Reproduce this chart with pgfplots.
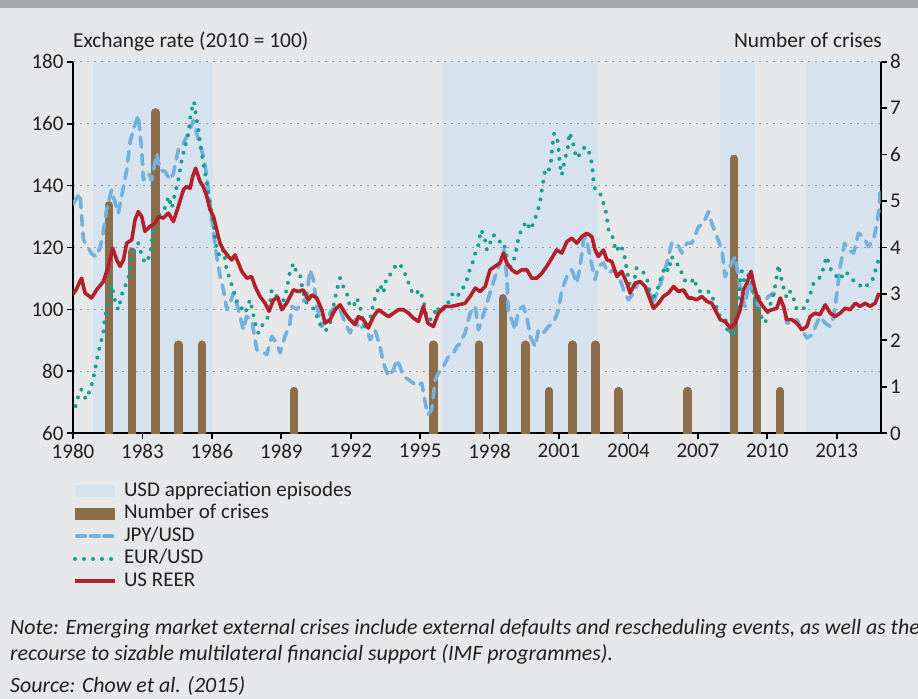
\documentclass[border=0pt]{standalone}
\usepackage{fontspec}
\setmainfont{Carlito}
\usepackage{pgfplots}
\pgfplotsset{compat=1.18}
\definecolor{bg}{HTML}{E6E7E8}
\definecolor{band}{HTML}{A7A9AC}
\definecolor{shadecol}{HTML}{D6E3EF}
\definecolor{crisis}{HTML}{8C6D4A}
\definecolor{jpy}{HTML}{72B0DD}
\definecolor{eur}{HTML}{159E91}
\definecolor{reer}{HTML}{B3202A}
\definecolor{txt}{HTML}{231F20}
\definecolor{gridc}{HTML}{9B9B9B}
\newcommand{\fs}{\fontsize{21bp}{25bp}\selectfont}
\newcommand{\ft}{\fontsize{21.4bp}{25bp}\selectfont}
\newcommand{\fn}{\fontsize{21.9bp}{26bp}\selectfont}
\pgfplotsset{
  mybox/.style={at={(73bp,265.7bp)}, anchor=south west, scale only axis,
    width=807.7bp, height=371.6bp, xmin=1980, xmax=2014.9,
    /pgf/number format/assume math mode=true, /pgf/number format/1000 sep={},
    tick label style={font=\fs, text=txt},
    xticklabel style={yshift=-1.5bp},
    axis line style={line width=2bp, black},
    tick style={line width=1.8bp, black},
    major tick length=6bp, tick align=outside},
}
\begin{document}
\begin{tikzpicture}
\useasboundingbox (0,0) rectangle (918bp,699bp);
\clip (0,0) rectangle (918bp,699bp);
\fill[bg] (0,0) rectangle (918bp,699bp);
\fill[band] (0,691bp) rectangle (918bp,699bp);

% shaded episodes
\begin{axis}[mybox, ymin=60, ymax=180, hide axis]
\addplot[draw=none, fill=shadecol] coordinates {(1980.88,60) (1986.06,60) (1986.06,180) (1980.88,180)};
\addplot[draw=none, fill=shadecol] coordinates {(1995.96,60) (2002.67,60) (2002.67,180) (1995.96,180)};
\addplot[draw=none, fill=shadecol] coordinates {(2007.97,60) (2009.48,60) (2009.48,180) (2007.97,180)};
\addplot[draw=none, fill=shadecol] coordinates {(2011.69,60) (2014.9,60) (2014.9,180) (2011.69,180)};
\end{axis}

% left axis, x axis, grid
\begin{axis}[mybox, ymin=60, ymax=180,
  axis x line*=bottom, axis y line*=left,
  xtick={1980,1983,...,2013}, ytick={60,80,...,180},
  ymajorgrids, grid style={gridc, line width=1.5bp, dash pattern=on 2bp off 5bp}]
\addplot[draw=none] coordinates {(1980,60)};
\end{axis}

% crises bars, right axis
\begin{axis}[mybox, ymin=0, ymax=8, axis x line=none, axis y line*=right,
  ytick={0,1,...,8}, clip=true]
\addplot[ycomb, crisis, mark=none, line width=8.5bp, line cap=round, yshift=-4.25bp] table {
x y
1981.55 5
1982.55 4
1983.57 7
1984.55 2
1985.57 2
1989.55 1
1995.57 2
1997.55 2
1998.57 3
1999.56 2
2000.57 1
2001.58 2
2002.57 2
2003.57 1
2006.56 1
2008.55 6
2009.56 3
2010.55 1
};
\end{axis}

% lines and legend
\begin{axis}[mybox, ymin=60, ymax=180, hide axis,
  legend style={at={(rel axis cs:0,0)}, anchor=north west, yshift=-49bp,
    draw=none, fill=none, inner sep=0pt, outer sep=0pt, row sep=4.5bp, column sep=7bp,
    font=\fs, text=txt, nodes={inner sep=0pt, text height=14bp, text depth=4bp}},
  legend cell align=left,
  legend image code/.code={\draw (0bp,0bp) -- (40bp,0bp);}]
\addlegendimage{draw=none, legend image code/.code={\fill[shadecol] (0bp,-6bp) rectangle (40bp,6bp);}}
\addlegendentry{USD appreciation episodes}
\addlegendimage{draw=none, legend image code/.code={\fill[crisis] (0bp,-6bp) rectangle (40bp,6bp);}}
\addlegendentry{Number of crises}
\addplot[jpy, line width=3.6bp, dash pattern=on 10bp off 7.5bp, line cap=round, line join=round,
  legend image code/.code={\draw[dash pattern=on 8.6bp off 5bp] (1.8bp,0bp) -- (38.2bp,0bp);}] table {
x y
1980.00 134
1980.16 136
1980.30 137.5
1980.45 122.5
1980.66 120
1980.80 118
1981.00 117
1981.17 120
1981.30 124.6
1981.45 132
1981.67 138.6
1981.80 135
1981.96 131
1982.10 136.5
1982.32 145
1982.46 153.7
1982.60 158
1982.82 162.8
1982.97 151.5
1983.04 141.8
1983.26 144
1983.40 141.8
1983.62 150.4
1983.76 145
1983.98 144.5
1984.19 141.8
1984.34 144
1984.55 151.5
1984.77 153.7
1984.99 156.9
1985.20 161
1985.42 154.7
1985.64 149.4
1985.78 143
1985.93 133.2
1986.07 124.6
1986.21 117
1986.36 110.6
1986.50 106.3
1986.65 99.9
1986.79 102
1986.93 105.3
1987.15 99.9
1987.36 93.4
1987.50 97.7
1987.72 96.7
1987.94 87
1988.16 86.5
1988.37 85.4
1988.59 91.3
1988.80 89.1
1988.95 86
1989.16 91.3
1989.38 95.6
1989.45 101
1989.67 100
1989.88 102
1990.10 104
1990.24 112.8
1990.39 109.6
1990.53 101
1990.75 94.5
1990.96 96.7
1991.18 99.9
1991.40 101
1991.54 99.9
1991.76 95.6
1991.97 92.4
1992.19 96.7
1992.40 93.4
1992.62 95.6
1992.84 90.2
1993.05 93.4
1993.27 88
1993.41 82.7
1993.63 78.4
1993.85 80.5
1993.99 83.8
1994.13 81.6
1994.28 78.4
1994.50 77.3
1994.71 76.2
1994.86 75.2
1995.07 76.2
1995.22 69.8
1995.33 66
1995.50 67.6
1995.65 77.3
1995.79 79.5
1996.01 81.6
1996.22 84.8
1996.44 85.9
1996.58 88
1996.73 89.1
1996.94 92.4
1997.16 98.8
1997.38 101
1997.52 93.4
1997.78 99.5
1998.02 105.3
1998.24 110.6
1998.45 115
1998.63 119.2
1998.74 110.6
1998.81 98.8
1998.96 96.7
1999.10 93.4
1999.25 99.9
1999.46 101
1999.61 97.7
1999.75 91.3
1999.97 88
2000.11 93.4
2000.33 92.4
2000.54 94.5
2000.76 95.6
2000.98 99.9
2001.12 106.3
2001.34 110.6
2001.55 112.8
2001.77 108.5
2001.91 113.8
2002.06 122.5
2002.17 123.5
2002.34 117
2002.56 109.6
2002.70 113.9
2002.92 115
2003.14 111.7
2003.35 112.8
2003.57 111.2
2003.79 106.3
2004.00 103.1
2004.22 105.3
2004.44 109
2004.65 108.5
2004.87 106.3
2005.05 102
2005.23 105.3
2005.44 109.6
2005.66 115
2005.87 121.4
2006.09 121.4
2006.31 118.2
2006.52 121.4
2006.74 121.4
2007.03 126.7
2007.24 127.8
2007.46 131.6
2007.60 127.8
2007.82 123.5
2008.04 119.2
2008.18 110.6
2008.39 113.9
2008.61 117.1
2008.75 110.6
2008.90 104.2
2009.04 101
2009.19 108.5
2009.40 105.3
2009.62 101
2009.83 102
2010.05 104.2
2010.27 105.3
2010.48 104.2
2010.70 101
2010.84 95.6
2011.06 95.6
2011.27 96.7
2011.49 93.4
2011.71 90.8
2011.92 91.8
2012.14 95.6
2012.28 97.7
2012.50 95.6
2012.72 94.5
2012.86 97.7
2013.01 105.3
2013.15 113.9
2013.34 121.4
2013.51 119.2
2013.73 118.2
2013.94 124.6
2014.16 123.5
2014.37 120.3
2014.59 122.5
2014.74 127.8
2014.84 133.2
2014.88 138.6
};
\addlegendentry{JPY/USD}
\addplot[eur, line width=4bp, dash pattern=on 0.01bp off 9bp, line cap=round] table {
x y
1980.11 68.8
1980.21 71.5
1980.36 74.2
1980.43 72.6
1980.57 71
1980.72 73.7
1980.83 76.3
1980.93 79.6
1981.08 85.5
1981.18 88.7
1981.31 92.4
1981.38 97.7
1981.46 99.9
1981.60 105.3
1981.67 108
1981.82 102.6
1981.96 99.9
1982.10 104.7
1982.25 107.4
1982.39 110.1
1982.54 118.2
1982.68 119.2
1982.82 121.4
1982.97 117.6
1983.11 115
1983.26 116.6
1983.36 119.2
1983.47 125.7
1983.62 128.9
1983.76 131.1
1983.90 131.6
1984.05 134.3
1984.12 136.5
1984.27 132.7
1984.41 137.5
1984.55 141.8
1984.70 148.3
1984.84 152.6
1984.99 156.9
1985.09 163.3
1985.23 167.1
1985.32 162.3
1985.42 158
1985.52 152.6
1985.63 147.2
1985.78 140.8
1985.92 134.3
1986.07 127.8
1986.21 119.2
1986.35 117.1
1986.50 119.2
1986.64 112.8
1986.79 109.6
1986.93 106.3
1987.15 101
1987.29 100.4
1987.44 98.8
1987.65 103.1
1987.87 95.6
1988.01 92.4
1988.23 95.6
1988.44 97.7
1988.59 106.3
1988.80 104.2
1989.02 101
1989.23 106.3
1989.38 112.3
1989.52 114.9
1989.67 111.7
1989.81 111.2
1989.95 105.3
1990.10 102
1990.24 101
1990.46 99.9
1990.60 96.1
1990.82 93.4
1990.96 93.4
1991.11 95.6
1991.25 101
1991.40 106.3
1991.54 110.1
1991.68 107.4
1991.83 105.3
1991.97 101
1992.12 101
1992.26 103.7
1992.40 101
1992.55 95.6
1992.69 93.4
1992.84 96.7
1992.98 102
1993.12 105.3
1993.27 108
1993.41 105.3
1993.56 110.6
1993.70 111.2
1993.92 113.9
1994.09 114.9
1994.28 112.8
1994.50 108.5
1994.64 105.8
1994.78 104.7
1994.96 106.3
1995.14 103.1
1995.29 97.2
1995.43 96.7
1995.57 97.7
1995.72 101
1995.86 98.8
1996.08 101
1996.30 103.1
1996.44 105.8
1996.66 104.7
1996.80 106.3
1996.94 108
1997.06 110.6
1997.16 113.3
1997.31 116
1997.38 118.2
1997.52 120.9
1997.63 125.7
1997.78 123.5
1997.88 119.2
1998.02 121.4
1998.17 124.1
1998.38 121.9
1998.60 121.9
1998.71 118.2
1998.81 112.8
1998.96 114.4
1999.10 117.1
1999.25 123
1999.39 126.2
1999.61 128.4
1999.75 125.7
1999.90 127.8
2000.04 131.1
2000.16 133.8
2000.26 138.6
2000.33 141.8
2000.40 145.1
2000.54 144.5
2000.65 147.7
2000.73 153.7
2000.79 156.9
2000.93 154.7
2000.98 151.5
2001.05 146.1
2001.12 143.4
2001.26 148.8
2001.37 151.5
2001.45 157.1
2001.60 154.2
2001.67 151
2001.80 148.8
2001.91 150.4
2002.13 152.6
2002.32 150.4
2002.42 147.2
2002.49 141.8
2002.56 138.6
2002.70 137.5
2002.81 137
2002.92 134.3
2003.04 131.1
2003.14 125.7
2003.28 124.6
2003.35 121.9
2003.47 118.7
2003.64 120.9
2003.79 118.7
2003.86 116
2003.93 112.8
2004.07 107.4
2004.22 106.9
2004.33 113.3
2004.48 113.3
2004.62 112.3
2004.79 110.1
2004.94 105.3
2005.01 102.6
2005.16 105.3
2005.30 107.4
2005.44 111.2
2005.59 113.9
2005.73 112.3
2005.87 117.1
2006.02 114.9
2006.16 114.4
2006.31 111.7
2006.45 109.3
2006.67 108.5
2006.85 110.1
2006.95 106.9
2007.10 105.8
2007.31 105.3
2007.49 105.8
2007.60 104.2
2007.78 101.5
2007.89 98.3
2008.04 97.7
2008.18 97.2
2008.25 94
2008.32 91.8
2008.47 93.4
2008.58 91.8
2008.68 97.7
2008.75 104.2
2008.83 109
2008.90 112.3
2009.01 109
2009.19 111.2
2009.33 108.5
2009.45 103.1
2009.59 100.4
2009.74 97.7
2009.91 95.6
2010.05 99.9
2010.20 103.1
2010.31 106.3
2010.37 109
2010.43 111.7
2010.48 114.4
2010.56 111.7
2010.63 109
2010.73 106.3
2010.84 103.7
2010.99 105.8
2011.13 103.7
2011.28 99.9
2011.42 100.4
2011.64 100.4
2011.75 103.1
2011.90 105.8
2012.00 108.5
2012.14 109
2012.29 110.6
2012.40 112.8
2012.47 114.9
2012.57 117.1
2012.67 114.4
2012.82 111.7
2013.01 110.6
2013.11 109.6
2013.22 110.6
2013.37 112.3
2013.51 111.2
2013.65 110.1
2013.80 108.5
2013.94 108
2014.09 107.4
2014.23 106.9
2014.37 108.5
2014.52 109
2014.66 112.3
2014.76 114.9
2014.88 117.6
};
\addlegendentry{EUR/USD}
\addplot[reer, line width=3.6bp, line join=round] table {
x y
1980.00 105
1980.13 106.3
1980.37 110.1
1980.52 105.3
1980.80 103.7
1981.02 106.3
1981.31 109
1981.53 113.9
1981.71 119.8
1981.89 116
1982.03 113.9
1982.18 116
1982.32 121.4
1982.54 122.5
1982.68 128.9
1982.82 131.6
1982.97 130
1983.11 125.2
1983.33 126.8
1983.54 127.8
1983.69 130
1983.90 129.5
1984.12 131.1
1984.34 128.4
1984.55 133.2
1984.77 138.6
1984.91 139.7
1985.06 139.1
1985.17 142.9
1985.30 145.6
1985.49 141.3
1985.63 139.7
1985.78 136.5
1985.92 132.2
1986.07 130
1986.21 125.7
1986.35 121.4
1986.50 119.2
1986.71 117.1
1986.86 116
1987.00 117.6
1987.15 114.9
1987.29 112.3
1987.51 110.1
1987.72 110.6
1987.87 107.4
1988.08 104.2
1988.30 102
1988.47 99.4
1988.66 103.1
1988.85 103.9
1989.02 99.9
1989.23 102
1989.52 106.3
1989.74 105.8
1989.95 106.3
1990.17 103.1
1990.32 104.7
1990.53 103.7
1990.75 99.9
1990.89 95.6
1991.11 96.7
1991.32 99.9
1991.54 101.5
1991.76 98.8
1991.97 96.7
1992.19 95.1
1992.33 97.7
1992.55 96.7
1992.76 94
1992.98 97.7
1993.20 99.9
1993.41 98.8
1993.63 97.7
1993.85 98.8
1994.06 99.9
1994.28 99.9
1994.50 98.8
1994.71 97.2
1994.93 96.1
1995.14 101
1995.33 95.6
1995.57 94.5
1995.79 98.8
1996.08 101
1996.37 101
1996.66 101.5
1996.94 102
1997.16 104.2
1997.38 106.9
1997.59 105.8
1997.81 107.4
1998.02 112.8
1998.24 113.9
1998.45 115
1998.60 118.2
1998.74 115
1998.96 112.8
1999.17 111.7
1999.39 112.8
1999.61 112.8
1999.82 110.1
2000.04 110.1
2000.26 111.7
2000.47 113.9
2000.69 116.6
2000.90 119.2
2001.12 118.2
2001.34 121.9
2001.55 123
2001.77 121.4
2001.98 123.5
2002.20 124.6
2002.42 123.5
2002.56 119.2
2002.70 117.1
2002.92 119.2
2003.07 116
2003.28 115.5
2003.50 110.6
2003.71 112.3
2003.93 108.5
2004.07 105.3
2004.29 108.5
2004.51 109
2004.72 107.4
2004.94 103.1
2005.08 100.4
2005.30 102
2005.51 104.2
2005.73 105.3
2005.95 107.4
2006.16 105.8
2006.38 106.3
2006.59 103.7
2006.74 103.7
2006.95 103.1
2007.17 104.2
2007.39 102.6
2007.60 102
2007.82 98.8
2007.96 96.7
2008.18 96.1
2008.40 94
2008.61 95.6
2008.83 99.9
2008.97 106.3
2009.12 108.5
2009.30 112.3
2009.40 108.5
2009.55 104.2
2009.76 101.5
2009.98 99.4
2010.20 99.9
2010.41 100.4
2010.56 103.7
2010.70 101
2010.84 96.7
2011.06 96.7
2011.27 95.6
2011.49 93.4
2011.71 94.5
2011.85 97.7
2012.07 98.8
2012.28 98.3
2012.50 101.5
2012.72 98.8
2012.93 97.7
2013.15 98.8
2013.37 100.4
2013.58 99.9
2013.80 102
2014.01 101
2014.23 102
2014.44 101
2014.66 102
2014.83 105.3
};
\addlegendentry{US REER}
\end{axis}

\node[anchor=base west, font=\ft, text=txt, inner sep=0pt] at (73bp,651bp) {Exchange rate (2010 = 100)};
\node[anchor=base east, font=\ft, text=txt, inner sep=0pt] at (882bp,651bp) {Number of crises};
\node[anchor=base west, font=\fn\itshape, text=txt, inner sep=0pt] at (10bp,64bp) {Note: Emerging market external crises include external defaults and rescheduling events, as well as the};
\node[anchor=base west, font=\fn\itshape, text=txt, inner sep=0pt] at (10bp,39bp) {recourse to sizable multilateral financial support (IMF programmes).};
\node[anchor=base west, font=\fn\itshape, text=txt, inner sep=0pt] at (10bp,7bp) {Source: Chow et al. (2015)};
\end{tikzpicture}
\end{document}
